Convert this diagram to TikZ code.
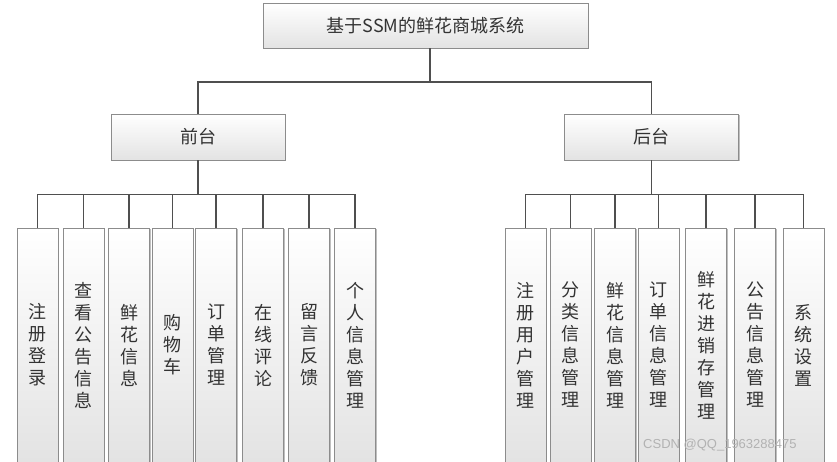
\documentclass[tikz,border=0pt]{standalone}
\usepackage{fontspec}
\newfontfamily\cjk{Noto Sans CJK SC}
\newfontfamily\wmfont{Liberation Sans}
\usetikzlibrary{shadows}
\definecolor{txt}{HTML}{333333}
\definecolor{bord}{HTML}{8C8C8C}
\definecolor{wire}{HTML}{4F4F4F}
\tikzset{
  boxbase/.style={draw=bord, line width=0.9pt, top color=white, bottom color=black!11,
    drop shadow={shadow xshift=1.2pt, shadow yshift=-1.2pt, opacity=0.25, fill=black},
    text=txt, inner sep=0pt, font=\cjk\fontsize{18}{22}\selectfont},
  headbox/.style={boxbase, minimum width=325pt, minimum height=45pt},
  midbox/.style={boxbase, minimum width=174pt, minimum height=46pt},
  leafbox/.style={boxbase, minimum width=41pt, minimum height=234pt, align=center},
  wireline/.style={draw=wire, line width=1.7pt}
}
\begin{document}
\begin{tikzpicture}[x=1pt,y=-1pt]
\useasboundingbox (0,0) rectangle (837,461);
\fill[white] (0,0) rectangle (837,461);
\node[headbox] (top) at (425.5,25.5) {基于SSM的鲜花商城系统};
\node[midbox] (front) at (198,137) {前台};
\node[midbox] (back) at (651.5,137) {后台};
\coordinate (split) at (430,82);
% front leaves
\node[leafbox] (f1) at (37.5,345) {注\\册\\登\\录};
\node[leafbox] (f2) at (83.5,345) {查\\看\\公\\告\\信\\息};
\node[leafbox] (f3) at (129,345) {鲜\\花\\信\\息};
\node[leafbox] (f4) at (172.5,345) {购\\物\\车};
\node[leafbox] (f5) at (216,345) {订\\单\\管\\理};
\node[leafbox] (f6) at (263,345) {在\\线\\评\\论};
\node[leafbox] (f7) at (309,345) {留\\言\\反\\馈};
\node[leafbox] (f8) at (355,345) {个\\人\\信\\息\\管\\理};
% back leaves
\node[leafbox] (b1) at (525.5,345) {注\\册\\用\\户\\管\\理};
\node[leafbox] (b2) at (570.5,345) {分\\类\\信\\息\\管\\理};
\node[leafbox] (b3) at (615,345) {鲜\\花\\信\\息\\管\\理};
\node[leafbox] (b4) at (658.5,345) {订\\单\\信\\息\\管\\理};
\node[leafbox] (b5) at (706,345) {鲜\\花\\进\\销\\存\\管\\理};
\node[leafbox] (b6) at (755,345) {公\\告\\信\\息\\管\\理};
\node[leafbox] (b7) at (803.5,345) {系\\统\\设\\置};
% connectors
\draw[wireline] (top.south -| split) -- (split);
\draw[wireline] (front.north) |- (split) -| (back.north);
\foreach \n in {f1,f2,f3,f4,f5,f6,f7,f8}
  \draw[wireline] (front.south) -- ++(0,34) -| (\n.north);
\foreach \n in {b1,b2,b3,b4,b5,b6,b7}
  \draw[wireline] (back.south) -- ++(0,34) -| (\n.north);
\node[text=black!30, font=\wmfont\fontsize{13}{13}\selectfont, anchor=west, inner sep=0pt] (wm) at (643,445) {CSDN @QQ\_1963288475};
\end{tikzpicture}
\end{document}
